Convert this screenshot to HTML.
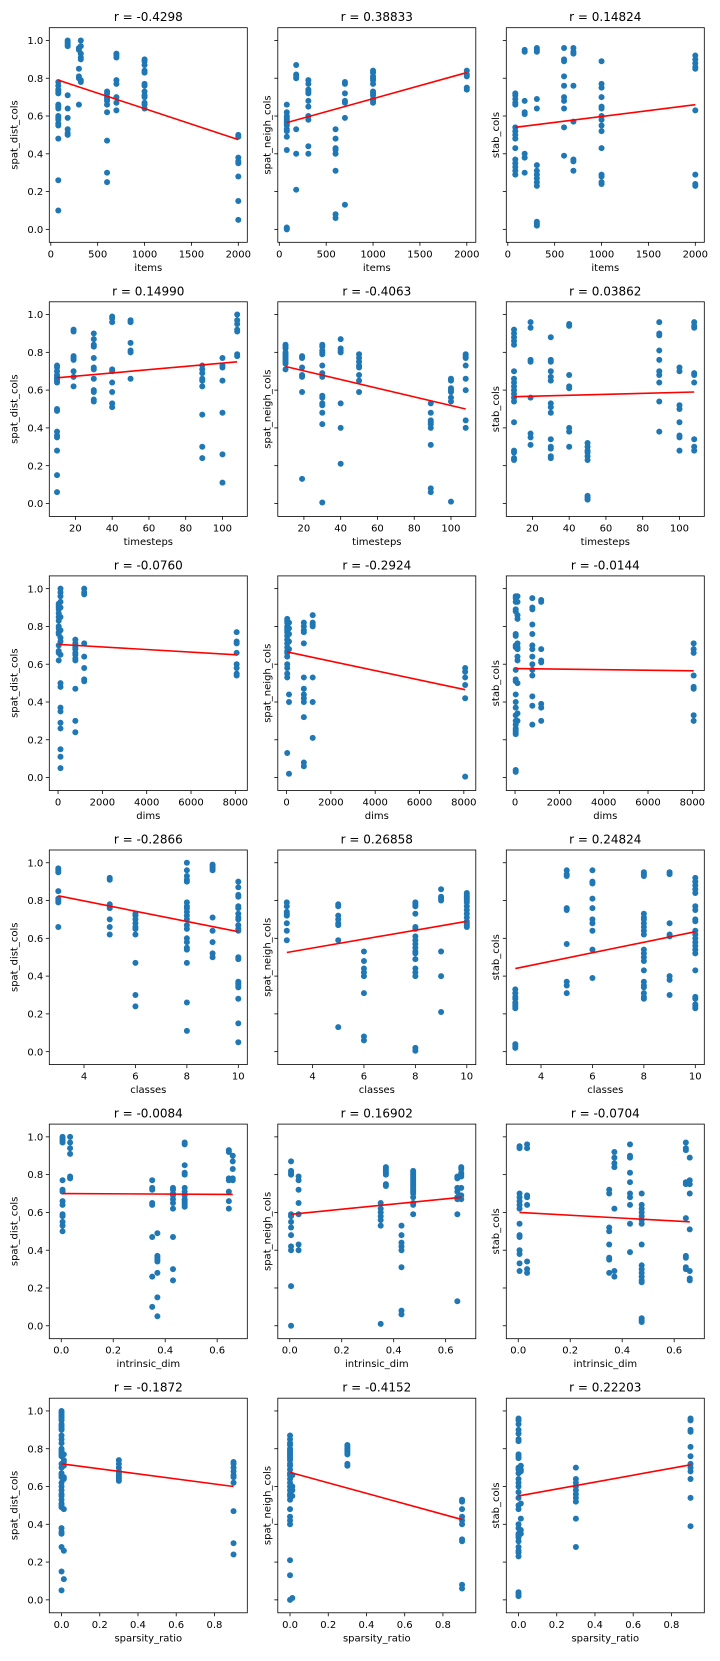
<!DOCTYPE html>
<html><head><meta charset="utf-8"><style>
html,body{margin:0;padding:0;background:#fff;}
svg text{font-family:"DejaVu Sans","Liberation Sans",sans-serif;fill:#000;}
</style></head><body>
<svg id="fig" width="720" height="1656" viewBox="0 0 720 1656" xmlns="http://www.w3.org/2000/svg"></svg>
<script>
// ---------- data ----------
const rowNames = ["items","timesteps","dims","classes","intrinsic_dim","sparsity_ratio"];
const colNames = ["spat_dist_cols","spat_neigh_cols","stab_cols"];
const titles = [
 ["r = -0.4298","r = 0.38833","r = 0.14824"],
 ["r = 0.14990","r = -0.4063","r = 0.03862"],
 ["r = -0.0760","r = -0.2924","r = -0.0144"],
 ["r = -0.2866","r = 0.26858","r = 0.24824"],
 ["r = -0.0084","r = 0.16902","r = -0.0704"],
 ["r = -0.1872","r = -0.4152","r = 0.22203"]];
const xLims = [[-16,2096],[5.8,113.5],[-395,8540],[2.65,10.35],[-0.046,0.716],[-0.064,0.972]];
const xTicks = [[0,500,1000,1500,2000],[20,40,60,80,100],[0,2000,4000,6000,8000],[4,6,8,10],[0,0.2,0.4,0.6],[0,0.2,0.4,0.6,0.8]];
const xTickLabels = [["0","500","1000","1500","2000"],["20","40","60","80","100"],["0","2000","4000","6000","8000"],["4","6","8","10"],["0.0","0.2","0.4","0.6"],["0.0","0.2","0.4","0.6","0.8"]];
const yLim = [-0.0685,1.0675];
const yTicks = [0,0.2,0.4,0.6,0.8,1.0];
const yTickLabels = ["0.0","0.2","0.4","0.6","0.8","1.0"];

// row 1: items
const x_r1c1=[80,180,300,320,600,700,1000,2000];
const y_r1c1=[[0.78,0.76,0.74,0.73,0.72,0.66,0.65,0.64,0.60,0.59,0.58,0.56,0.55,0.48,0.26,0.10],[1.0,0.99,0.98,0.97,0.71,0.64,0.59,0.53,0.51,0.50],[0.96,0.95,0.85,0.81,0.80,0.66],[1.0,0.97,0.93,0.91,0.90,0.79,0.78],[0.73,0.72,0.70,0.69,0.68,0.66,0.62,0.47,0.30,0.25],[0.93,0.92,0.91,0.79,0.77,0.70,0.67,0.63],[0.90,0.89,0.87,0.84,0.83,0.77,0.76,0.73,0.71,0.70,0.67,0.66,0.64],[0.50,0.49,0.38,0.36,0.35,0.28,0.15,0.05]];
const x_r1c2=[80,180,310,600,700,1000,2000];
const y_r1c2=[[0.66,0.62,0.60,0.59,0.58,0.57,0.56,0.55,0.53,0.52,0.49,0.42,0.01,0.005,0.0],[0.87,0.82,0.81,0.80,0.53,0.40,0.21],[0.79,0.77,0.74,0.73,0.72,0.68,0.65,0.60,0.58,0.44,0.40],[0.53,0.48,0.43,0.42,0.40,0.31,0.08,0.06],[0.78,0.77,0.72,0.68,0.67,0.59,0.13],[0.84,0.83,0.81,0.80,0.79,0.77,0.73,0.72,0.71,0.69,0.68,0.67],[0.84,0.82,0.81,0.75,0.74]];
const x_r1c3=[80,180,310,600,700,1000,2000];
const y_r1c3=[[0.72,0.71,0.69,0.67,0.66,0.54,0.52,0.50,0.48,0.43,0.37,0.35,0.33,0.31,0.29],[0.95,0.94,0.68,0.62,0.61,0.40,0.38,0.30],[0.96,0.95,0.94,0.69,0.64,0.34,0.31,0.29,0.27,0.25,0.23,0.04,0.03,0.02],[0.96,0.90,0.89,0.81,0.76,0.70,0.68,0.64,0.54,0.39],[0.96,0.94,0.93,0.76,0.57,0.37,0.36,0.31],[0.89,0.77,0.75,0.70,0.65,0.64,0.60,0.58,0.55,0.52,0.43,0.29,0.28,0.25,0.24],[0.92,0.90,0.88,0.86,0.85,0.63,0.29,0.24,0.23]];
// row 2: timesteps
const x_r2=[10,19,30,40,50,89,100,108];
const y_r2c1=[[0.73,0.72,0.70,0.68,0.67,0.66,0.65,0.64,0.50,0.49,0.38,0.36,0.35,0.28,0.15,0.06],[0.92,0.91,0.78,0.77,0.76,0.70,0.67,0.62],[0.90,0.87,0.84,0.83,0.77,0.72,0.71,0.66,0.60,0.59,0.55,0.54],[0.99,0.98,0.96,0.71,0.70,0.64,0.59,0.53,0.51],[0.97,0.96,0.85,0.81,0.80,0.66],[0.73,0.71,0.69,0.66,0.65,0.62,0.47,0.30,0.24],[0.77,0.73,0.72,0.65,0.48,0.26,0.11],[1.0,0.97,0.95,0.92,0.91,0.79,0.78]];
const y_r2c2=[[0.84,0.83,0.82,0.80,0.79,0.78,0.77,0.76,0.75,0.74,0.71],[0.78,0.77,0.72,0.68,0.67,0.59,0.13],[0.84,0.83,0.81,0.80,0.79,0.73,0.69,0.67,0.57,0.56,0.53,0.52,0.48,0.42,0.005],[0.87,0.82,0.81,0.80,0.53,0.40,0.21],[0.79,0.77,0.75,0.73,0.72,0.68,0.65,0.59],[0.53,0.48,0.44,0.43,0.42,0.40,0.31,0.08,0.06],[0.66,0.65,0.61,0.60,0.59,0.56,0.54,0.01],[0.79,0.78,0.77,0.73,0.66,0.60,0.44,0.40]];
const y_r2c3=[[0.92,0.90,0.88,0.86,0.84,0.70,0.66,0.64,0.62,0.60,0.58,0.56,0.54,0.43,0.28,0.27,0.24,0.23],[0.96,0.93,0.76,0.75,0.56,0.37,0.35,0.31],[0.88,0.76,0.75,0.70,0.67,0.65,0.53,0.51,0.48,0.34,0.30,0.29,0.25,0.24],[0.95,0.94,0.68,0.62,0.61,0.40,0.38,0.30],[0.32,0.30,0.28,0.27,0.25,0.23,0.04,0.03,0.02],[0.96,0.90,0.89,0.81,0.76,0.70,0.68,0.64,0.54,0.38],[0.72,0.70,0.52,0.50,0.43,0.36,0.35,0.28],[0.96,0.94,0.93,0.69,0.68,0.64,0.34,0.30,0.28]];
// row 3: dims
const x_r3=[30,110,780,1180,8060];
const y_r3c1=[[0.92,0.91,0.90,0.89,0.87,0.85,0.83,0.80,0.79,0.77,0.76,0.70,0.67,0.66,0.62],[1.0,0.98,0.96,0.93,0.90,0.85,0.78,0.74,0.72,0.65,0.50,0.48,0.37,0.35,0.29,0.26,0.15,0.11,0.05],[0.73,0.71,0.70,0.69,0.68,0.66,0.65,0.63,0.62,0.47,0.30,0.24],[1.0,0.98,0.97,0.71,0.64,0.58,0.52,0.51],[0.77,0.72,0.71,0.66,0.60,0.58,0.55,0.54]];
const y_r3c2=[[0.84,0.83,0.82,0.80,0.79,0.78,0.77,0.75,0.73,0.71,0.69,0.67,0.66,0.64,0.60,0.58,0.55,0.53,0.13],[0.82,0.79,0.76,0.72,0.68,0.44,0.40,0.02],[0.82,0.80,0.78,0.77,0.71,0.53,0.47,0.44,0.42,0.40,0.32,0.08,0.06],[0.86,0.82,0.81,0.80,0.53,0.40,0.21],[0.58,0.56,0.53,0.49,0.42,0.005]];
const y_r3c3=[[0.96,0.95,0.93,0.89,0.88,0.76,0.75,0.70,0.69,0.57,0.52,0.51,0.44,0.40,0.37,0.33,0.30,0.28,0.26,0.25,0.24,0.23,0.04,0.03],[0.96,0.93,0.86,0.84,0.71,0.69,0.68,0.64,0.62,0.50,0.34,0.30],[0.95,0.90,0.89,0.81,0.76,0.70,0.68,0.64,0.60,0.57,0.54,0.43,0.38,0.28],[0.94,0.93,0.68,0.62,0.61,0.39,0.37,0.30],[0.71,0.68,0.66,0.54,0.48,0.47,0.33,0.30]];
// row 4: classes
const x_r4=[3,5,6,8,9,10];
const y_r4c1=[[0.97,0.96,0.95,0.85,0.81,0.80,0.79,0.66],[0.92,0.91,0.78,0.77,0.76,0.70,0.66,0.62],[0.73,0.72,0.70,0.68,0.66,0.65,0.62,0.47,0.30,0.24],[1.0,0.96,0.93,0.91,0.90,0.79,0.77,0.76,0.74,0.72,0.70,0.67,0.65,0.60,0.58,0.55,0.54,0.47,0.26,0.11],[0.99,0.98,0.97,0.96,0.71,0.64,0.58,0.52,0.50],[0.90,0.87,0.83,0.82,0.77,0.76,0.73,0.71,0.70,0.67,0.65,0.64,0.50,0.49,0.37,0.36,0.35,0.34,0.28,0.15,0.05]];
const y_r4c2=[[0.79,0.77,0.74,0.73,0.72,0.68,0.64,0.59],[0.78,0.77,0.72,0.70,0.68,0.67,0.59,0.13],[0.53,0.48,0.44,0.42,0.40,0.31,0.08,0.06],[0.79,0.78,0.77,0.73,0.66,0.65,0.61,0.59,0.57,0.55,0.53,0.52,0.49,0.44,0.42,0.40,0.02,0.005],[0.86,0.82,0.81,0.80,0.53,0.40,0.21],[0.84,0.83,0.82,0.81,0.80,0.79,0.77,0.75,0.73,0.71,0.69,0.68,0.67,0.66]];
const y_r4c3=[[0.33,0.31,0.29,0.28,0.26,0.25,0.24,0.23,0.04,0.03,0.02],[0.96,0.94,0.93,0.76,0.75,0.57,0.37,0.35,0.31],[0.96,0.90,0.89,0.81,0.76,0.70,0.68,0.64,0.54,0.39],[0.95,0.94,0.93,0.73,0.71,0.70,0.68,0.66,0.64,0.62,0.54,0.52,0.50,0.48,0.43,0.37,0.35,0.34,0.31,0.29,0.28],[0.95,0.94,0.68,0.62,0.61,0.40,0.38,0.30],[0.92,0.90,0.88,0.86,0.84,0.77,0.75,0.70,0.69,0.64,0.62,0.60,0.58,0.56,0.54,0.52,0.43,0.29,0.28,0.25,0.24,0.23]];
// row 5: intrinsic_dim
const x_r5=[0.005,0.034,0.35,0.37,0.43,0.475,0.645,0.66];
const y_r5c1=[[1.0,0.99,0.98,0.97,0.77,0.72,0.71,0.66,0.64,0.59,0.58,0.55,0.53,0.50],[1.0,0.97,0.94,0.91,0.79,0.78],[0.77,0.73,0.72,0.65,0.64,0.47,0.26,0.10],[0.49,0.37,0.36,0.35,0.34,0.28,0.15,0.05],[0.73,0.72,0.70,0.69,0.67,0.65,0.62,0.47,0.30,0.24],[0.97,0.96,0.85,0.81,0.80,0.73,0.71,0.69,0.67,0.66,0.65,0.64,0.63],[0.93,0.92,0.78,0.77,0.71,0.66,0.62],[0.90,0.87,0.83,0.78,0.77]];
const y_r5c2=[[0.87,0.82,0.81,0.80,0.59,0.58,0.55,0.52,0.48,0.42,0.40,0.21,0.0],[0.79,0.77,0.72,0.65,0.59,0.43,0.40],[0.65,0.62,0.60,0.58,0.56,0.53,0.01],[0.84,0.83,0.82,0.81,0.80,0.75,0.74],[0.53,0.48,0.44,0.42,0.40,0.31,0.08,0.06],[0.82,0.81,0.80,0.79,0.78,0.77,0.76,0.75,0.74,0.73,0.72,0.71,0.70,0.68,0.65,0.64,0.59],[0.79,0.78,0.73,0.71,0.68,0.67,0.59,0.13],[0.84,0.83,0.81,0.80,0.79,0.73,0.69,0.67]];
const y_r5c3=[[0.95,0.94,0.70,0.68,0.66,0.64,0.62,0.54,0.48,0.47,0.40,0.38,0.33,0.29],[0.96,0.94,0.69,0.68,0.64,0.34,0.30,0.28],[0.72,0.70,0.52,0.50,0.43,0.36,0.35,0.28],[0.92,0.89,0.86,0.84,0.62,0.29,0.26],[0.96,0.90,0.89,0.81,0.76,0.70,0.68,0.64,0.54,0.39],[0.70,0.64,0.62,0.60,0.58,0.56,0.54,0.43,0.32,0.30,0.28,0.26,0.24,0.23,0.04,0.03,0.02],[0.97,0.94,0.93,0.76,0.75,0.57,0.37,0.36,0.31,0.30],[0.89,0.77,0.75,0.70,0.51,0.29,0.25,0.24]];
// row 6: sparsity_ratio
const x_r6=[0.0,0.012,0.3,0.9];
const y_r6c1=[[1.0,0.99,0.98,0.97,0.96,0.95,0.93,0.92,0.91,0.90,0.87,0.85,0.83,0.80,0.79,0.78,0.77,0.76,0.72,0.70,0.67,0.66,0.65,0.62,0.60,0.58,0.56,0.55,0.53,0.51,0.50,0.49,0.38,0.36,0.35,0.28,0.15,0.05],[0.77,0.74,0.73,0.71,0.65,0.64,0.48,0.26,0.11],[0.74,0.72,0.70,0.68,0.67,0.66,0.65,0.64,0.63],[0.73,0.72,0.70,0.68,0.66,0.65,0.62,0.47,0.30,0.24]];
const y_r6c2=[[0.87,0.85,0.83,0.82,0.80,0.79,0.78,0.77,0.76,0.75,0.74,0.72,0.71,0.69,0.67,0.66,0.64,0.62,0.60,0.58,0.56,0.55,0.53,0.48,0.44,0.42,0.40,0.21,0.13,0.0],[0.66,0.60,0.58,0.55,0.01],[0.82,0.81,0.80,0.79,0.78,0.77,0.72,0.71],[0.53,0.52,0.48,0.44,0.42,0.40,0.32,0.31,0.08,0.06]];
const y_r6c3=[[0.96,0.95,0.93,0.90,0.88,0.85,0.84,0.77,0.76,0.75,0.70,0.69,0.67,0.64,0.62,0.60,0.57,0.54,0.50,0.48,0.40,0.38,0.35,0.34,0.33,0.31,0.28,0.26,0.25,0.23,0.04,0.03,0.02],[0.71,0.69,0.68,0.51,0.43,0.37,0.35],[0.70,0.64,0.62,0.60,0.58,0.56,0.54,0.52,0.43,0.28],[0.96,0.95,0.90,0.89,0.81,0.76,0.72,0.70,0.68,0.64,0.54,0.39]];

// regression line end values [at min x, at max x]
const fitStart = [[0.79,0.565,0.54],[0.665,0.725,0.565],[0.705,0.665,0.577],[0.825,0.525,0.44],[0.70,0.59,0.60],[0.72,0.675,0.55]];
const fitEnd   = [[0.475,0.83,0.66],[0.75,0.50,0.59],[0.65,0.465,0.565],[0.635,0.69,0.635],[0.695,0.68,0.55],[0.60,0.425,0.715]];

const groupX = [[x_r1c1,x_r1c2,x_r1c3],[x_r2,x_r2,x_r2],[x_r3,x_r3,x_r3],[x_r4,x_r4,x_r4],[x_r5,x_r5,x_r5],[x_r6,x_r6,x_r6]];
const groupY = [[y_r1c1,y_r1c2,y_r1c3],[y_r2c1,y_r2c2,y_r2c3],[y_r3c1,y_r3c2,y_r3c3],[y_r4c1,y_r4c2,y_r4c3],[y_r5c1,y_r5c2,y_r5c3],[y_r6c1,y_r6c2,y_r6c3]];

// ---------- drawing ----------
const NS="http://www.w3.org/2000/svg";
const svg=document.getElementById('fig');
const AX_L=[49.3,277.8,506.3], AX_W=198, AX_T0=27.7, ROW_STEP=274.1, AX_H=214.6;
function mk(tag,attrs,parent){const e=document.createElementNS(NS,tag);for(const k in attrs)e.setAttribute(k,attrs[k]);(parent||svg).appendChild(e);return e;}

for(let r=0;r<6;r++){
 for(let c=0;c<3;c++){
  const L=AX_L[c], T=AX_T0+r*ROW_STEP;
  const xl=xLims[r];
  const sx=v=>L+(v-xl[0])/(xl[1]-xl[0])*AX_W;
  const sy=v=>T+(yLim[1]-v)/(yLim[1]-yLim[0])*AX_H;
  const g=mk('g',{});
  
  
  // title
  const tt=mk('text',{x:L+AX_W/2,y:T-6.5,'text-anchor':'middle','font-size':'12'},g);
  tt.textContent=titles[r][c];
  
  
  // points
  const gx=groupX[r][c], gy=groupY[r][c];
  for(let i=0;i<gx.length;i++){
   for(const v of gy[i]){
    const p=mk('circle',{cx:sx(gx[i]).toFixed(2),cy:sy(v).toFixed(2),r:3,fill:'#1f77b4'},g);
    
    
   }
  }
  // regression line
  const xmin=Math.min(...gx), xmax=Math.max(...gx);
  const ln=mk('line',{x1:sx(xmin),y1:sy(fitStart[r][c]),x2:sx(xmax),y2:sy(fitEnd[r][c]),stroke:'#ff0000','stroke-width':1.6},g);
  
  
  // frame
  const fr=mk('rect',{x:L,y:T,width:AX_W,height:AX_H,fill:'none',stroke:'#000','stroke-width':0.8},g);
  
  
  // x ticks
  xTicks[r].forEach((v,i)=>{
   const X=sx(v);
   mk('line',{x1:X,y1:T+AX_H,x2:X,y2:T+AX_H+3.5,stroke:'#000','stroke-width':0.8},g);
   const t=mk('text',{x:X,y:T+AX_H+15,'text-anchor':'middle','font-size':'10'},g);
   t.textContent=xTickLabels[r][i];
   
   
  });
  const xt=mk('text',{x:L+AX_W/2,y:T+AX_H+28.5,'text-anchor':'middle','font-size':'10'},g);
  xt.textContent=rowNames[r];
  
  
  // y ticks
  yTicks.forEach((v,i)=>{
   const Y=sy(v);
   mk('line',{x1:L-3.5,y1:Y,x2:L,y2:Y,stroke:'#000','stroke-width':0.8},g);
   if(c===0){
    const t=mk('text',{x:L-6,y:Y+3.6,'text-anchor':'end','font-size':'10'},g);
    t.textContent=yTickLabels[i];
    
    
   }
  });
  const yx=c===0?L-32:L-7.5, yc=T+AX_H/2;
  const yt=mk('text',{x:yx,y:yc,'text-anchor':'middle','font-size':'10',transform:'rotate(-90 '+yx+' '+yc+')'},g);
  yt.textContent=colNames[c];
  
  
 }
}
</script>
</body></html>
